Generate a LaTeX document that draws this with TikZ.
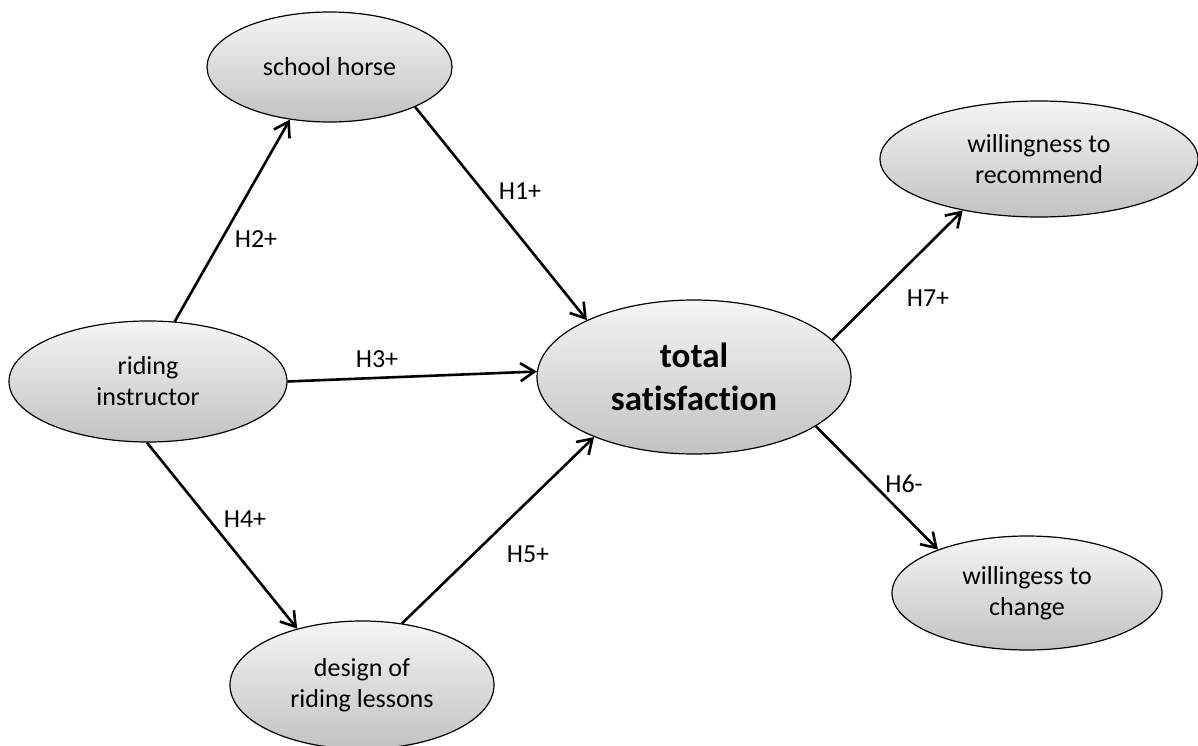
\documentclass[tikz,border=0pt]{standalone}
\usepackage{fontspec}
\setmainfont{Carlito}[Ligatures=NoCommon]
\usetikzlibrary{arrows.meta,shapes.geometric}
\begin{document}
\begin{tikzpicture}[x=1pt,y=1pt,
  var/.style={ellipse, draw=black, line width=1.2pt, top color=black!4, bottom color=black!24, inner sep=0pt, align=center, font=\fontsize{26}{31}\selectfont},
  link/.style={line width=2.6pt, -{Straight Barb[length=14pt,width=18pt]}},
  hyp/.style={anchor=base, inner sep=0pt, font=\fontsize{26}{31}\selectfont}]
\useasboundingbox (0,0) rectangle (1198,-746);
\node[var, minimum width=245pt, minimum height=110pt] (sh) at (329.5,-67) {school horse};
\node[var, minimum width=278pt, minimum height=121pt] (ri) at (148,-381.5) {riding\\instructor};
\node[var, minimum width=314pt, minimum height=154pt, font=\fontsize{35}{43}\selectfont\bfseries] (ts) at (694,-377) {total\\satisfaction};
\node[var, minimum width=264pt, minimum height=128pt] (dr) at (362,-685) {design of\\riding lessons};
\node[var, minimum width=318pt, minimum height=116pt] (wr) at (1039,-159) {willingness to\\recommend};
\node[var, minimum width=270pt, minimum height=114pt] (wc) at (1027,-593) {willingess to\\change};

\draw[link] (sh.-25.1) -- (ts.152.6);
\draw[link] (ri.66.3) -- (sh.-127.5);
\draw[link] (ri.0.2) -- (ts.178.5);
\draw[link] (ri.-91) -- (dr.139.1);
\draw[link] (dr.57.1) -- (ts.-149.1);
\draw[link] (ts.15.6) -- (wr.-146.9);
\draw[link] (ts.-22.5) -- (wc.154.1);

\node[hyp] (h1) at (520,-200) {H1+};
\node[hyp] (h2) at (256,-247) {H2+};
\node[hyp] (h3) at (377,-367) {H3+};
\node[hyp] (h4) at (245,-527) {H4+};
\node[hyp] (h5) at (528,-562) {H5+};
\node[hyp] (h6) at (904,-492) {H6-};
\node[hyp] (h7) at (928,-306) {H7+};
\end{tikzpicture}
\end{document}
